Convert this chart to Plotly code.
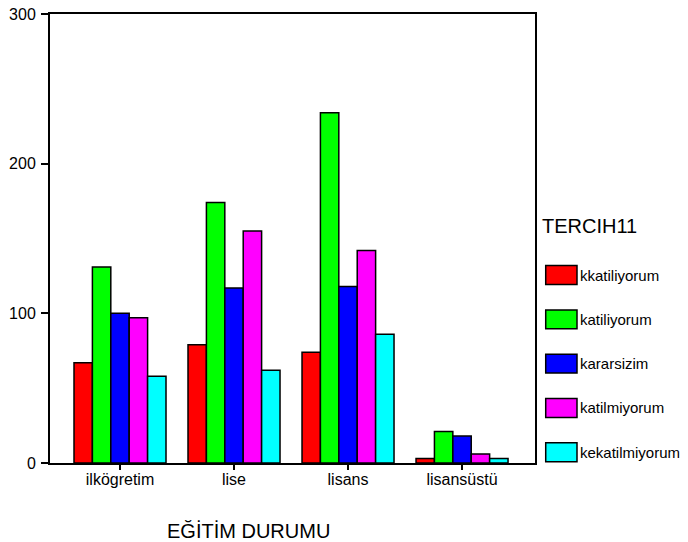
'''
    Grouped bar chart of TERCIH11 answers by education level (EĞİTİM DURUMU).
'''
import plotly.graph_objects as go

categories = ["ilkögretim", "lise", "lisans", "lisansüstü"]

kkatiliyorum = [67, 79, 74, 3]
katiliyorum = [131, 174, 234, 21]
kararsizim = [100, 117, 118, 18]
katilmiyorum = [97, 155, 142, 6]
kekatilmiyorum = [58, 62, 86, 3]

series_names = ["kkatiliyorum", "katiliyorum", "kararsizim", "katilmiyorum", "kekatilmiyorum"]
series_values = [kkatiliyorum, katiliyorum, kararsizim, katilmiyorum, kekatilmiyorum]
series_colors = ["#FF0000", "#00FF00", "#0000FF", "#FF00FF", "#00FFFF"]

FONT = "Arial, Liberation Sans, sans-serif"

fig = go.Figure()
for name, values, color in zip(series_names, series_values, series_colors):
    fig.add_trace(go.Bar(
        x=categories, y=values, name=name,
        marker=dict(color=color, line=dict(color="black", width=1.5)),
        showlegend=False,
    ))

# hand-made legend with wide swatches, like the original
fig.add_annotation(
    text="TERCIH11", xref="paper", yref="paper",
    x=1.0103, y=0.528, xanchor="left", yanchor="middle",
    showarrow=False, font=dict(size=20, color="black"),
)
for i, (name, color) in enumerate(zip(series_names, series_colors)):
    yc = 0.4187 - i * 0.0987
    fig.add_shape(
        type="rect", xref="paper", yref="paper",
        x0=1.0221, x1=1.0866, y0=yc - 0.021, y1=yc + 0.021,
        fillcolor=color, line=dict(color="black", width=1.5),
    )
    fig.add_annotation(
        text=name, xref="paper", yref="paper",
        x=1.089, y=yc, xanchor="left", yanchor="middle",
        showarrow=False, font=dict(size=15, color="black"),
    )

fig.add_annotation(
    text="EĞİTİM DURUMU", xref="paper", yref="paper",
    x=0.41, y=-0.151, xanchor="center", yanchor="middle",
    showarrow=False, font=dict(size=20, color="black"),
)

# the page adds an 8px body margin, so the figure is 8px smaller
fig.update_layout(
    width=680, height=534,
    margin=dict(l=42, r=153, t=6, b=79),
    paper_bgcolor="white", plot_bgcolor="white",
    font=dict(family=FONT, color="black", size=16),
    barmode="group", bargap=0.193, bargroupgap=0,
    xaxis=dict(
        type="category", range=[-0.614, 3.64], automargin=False,
        showline=True, linecolor="black", linewidth=2, mirror=True,
        ticks="outside", ticklen=5, tickcolor="black", tickwidth=1.5,
        ticklabelstandoff=-4,
        showgrid=False, tickfont=dict(size=16),
    ),
    yaxis=dict(
        range=[0, 300], tickvals=[0, 100, 200, 300], automargin=False,
        showline=True, linecolor="black", linewidth=2, mirror=True,
        ticks="outside", ticklen=7, tickcolor="black", tickwidth=1.5,
        ticklabelstandoff=2, ticklabeloverflow="allow",
        showgrid=False, zeroline=False, tickfont=dict(size=16),
    ),
)

fig.write_html("out.html")
